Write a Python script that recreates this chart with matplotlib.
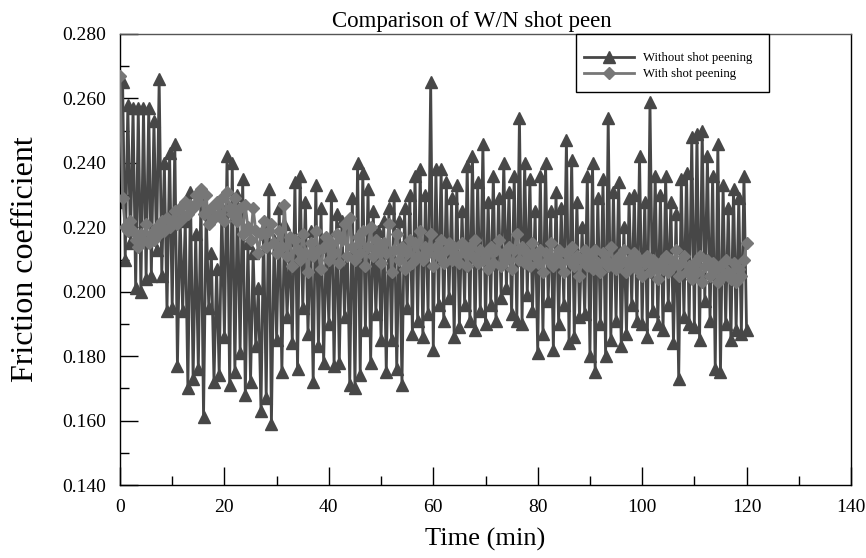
import numpy as np
import matplotlib
matplotlib.use("Agg")
import matplotlib.pyplot as plt
from matplotlib.ticker import MultipleLocator, FormatStrFormatter
from matplotlib.patches import Rectangle

time_min = [i * 0.5 for i in range(241)]

without_peening = [
    0.228, 0.265, 0.210, 0.258, 0.215, 0.257, 0.201, 0.257, 0.200, 0.257,
    0.204, 0.257, 0.205, 0.253, 0.213, 0.266, 0.205, 0.240, 0.194, 0.243,
    0.195, 0.246, 0.177, 0.224, 0.194, 0.222, 0.170, 0.231, 0.173, 0.218,
    0.176, 0.230, 0.161, 0.225, 0.195, 0.212, 0.172, 0.207, 0.174, 0.226,
    0.186, 0.242, 0.171, 0.240, 0.175, 0.230, 0.181, 0.235, 0.168, 0.215,
    0.172, 0.212, 0.183, 0.201, 0.163, 0.220, 0.167, 0.232, 0.159, 0.216,
    0.185, 0.226, 0.175, 0.221, 0.192, 0.216, 0.184, 0.234, 0.176, 0.236,
    0.195, 0.228, 0.187, 0.219, 0.172, 0.233, 0.183, 0.226, 0.178, 0.216,
    0.190, 0.230, 0.177, 0.224, 0.178, 0.222, 0.192, 0.220, 0.171, 0.229,
    0.170, 0.240, 0.174, 0.237, 0.188, 0.232, 0.178, 0.225, 0.193, 0.219,
    0.185, 0.222, 0.175, 0.226, 0.185, 0.230, 0.176, 0.222, 0.171, 0.226,
    0.195, 0.230, 0.187, 0.236, 0.191, 0.238, 0.186, 0.230, 0.193, 0.265,
    0.182, 0.238, 0.196, 0.238, 0.191, 0.234, 0.198, 0.229, 0.186, 0.233,
    0.189, 0.225, 0.196, 0.239, 0.191, 0.242, 0.188, 0.234, 0.194, 0.246,
    0.190, 0.228, 0.196, 0.236, 0.191, 0.229, 0.198, 0.240, 0.201, 0.231,
    0.193, 0.236, 0.191, 0.254, 0.190, 0.240, 0.199, 0.235, 0.194, 0.225,
    0.181, 0.236, 0.187, 0.240, 0.197, 0.225, 0.182, 0.231, 0.190, 0.226,
    0.196, 0.247, 0.184, 0.241, 0.186, 0.228, 0.192, 0.220, 0.193, 0.236,
    0.180, 0.240, 0.175, 0.229, 0.190, 0.235, 0.180, 0.254, 0.185, 0.231,
    0.191, 0.234, 0.183, 0.220, 0.187, 0.229, 0.196, 0.230, 0.191, 0.242,
    0.190, 0.228, 0.186, 0.259, 0.194, 0.236, 0.190, 0.230, 0.188, 0.236,
    0.196, 0.228, 0.184, 0.224, 0.173, 0.235, 0.192, 0.237, 0.190, 0.248,
    0.189, 0.249, 0.185, 0.250, 0.197, 0.242, 0.191, 0.236, 0.176, 0.246,
    0.175, 0.233, 0.190, 0.226, 0.185, 0.232, 0.188, 0.229, 0.187, 0.236,
    0.188,
]

with_peening = [
    0.267, 0.229, 0.220, 0.219, 0.222, 0.219, 0.216, 0.214, 0.218, 0.216,
    0.221, 0.215, 0.218, 0.216, 0.220, 0.218, 0.222, 0.219, 0.223, 0.220,
    0.222, 0.225, 0.221, 0.226, 0.223, 0.228, 0.224, 0.227, 0.226, 0.230,
    0.228, 0.232, 0.224, 0.230, 0.221, 0.226, 0.223, 0.228, 0.224, 0.229,
    0.222, 0.231, 0.226, 0.224, 0.229, 0.222, 0.226, 0.218, 0.227, 0.220,
    0.216, 0.226, 0.219, 0.212, 0.218, 0.222, 0.214, 0.219, 0.221, 0.215,
    0.212, 0.219, 0.214, 0.227, 0.211, 0.217, 0.208, 0.216, 0.213, 0.210,
    0.218, 0.212, 0.206, 0.215, 0.211, 0.219, 0.213, 0.207, 0.214, 0.217,
    0.210, 0.215, 0.212, 0.218, 0.209, 0.216, 0.221, 0.211, 0.223, 0.214,
    0.210, 0.217, 0.212, 0.219, 0.208, 0.214, 0.220, 0.211, 0.216, 0.213,
    0.209, 0.215, 0.212, 0.221, 0.206, 0.213, 0.218, 0.210, 0.214, 0.207,
    0.212, 0.216, 0.209, 0.215, 0.211, 0.219, 0.210, 0.214, 0.212, 0.218,
    0.208, 0.214, 0.211, 0.216, 0.209, 0.213, 0.215, 0.210, 0.214, 0.211,
    0.209, 0.215, 0.212, 0.208, 0.214, 0.211, 0.216, 0.209, 0.213, 0.210,
    0.212, 0.207, 0.214, 0.209, 0.213, 0.216, 0.208, 0.212, 0.210, 0.214,
    0.207, 0.213, 0.218, 0.210, 0.214, 0.209, 0.212, 0.208, 0.215, 0.211,
    0.209, 0.213, 0.206, 0.212, 0.210, 0.215, 0.208, 0.211, 0.213, 0.209,
    0.206, 0.212, 0.210, 0.214, 0.208, 0.211, 0.205, 0.210, 0.213, 0.208,
    0.211, 0.207, 0.213, 0.209, 0.206, 0.212, 0.210, 0.208, 0.214, 0.209,
    0.207, 0.211, 0.209, 0.213, 0.206, 0.210, 0.208, 0.212, 0.207, 0.210,
    0.205, 0.209, 0.211, 0.206, 0.210, 0.208, 0.204, 0.209, 0.207, 0.211,
    0.206, 0.210, 0.208, 0.213, 0.205, 0.209, 0.211, 0.206, 0.208, 0.204,
    0.209, 0.206, 0.211, 0.203, 0.208, 0.210, 0.205, 0.209, 0.207, 0.203,
    0.208, 0.205, 0.210, 0.206, 0.204, 0.209, 0.203, 0.207, 0.205, 0.210,
    0.215,
]

series_labels = ["Without shot peening", "With shot peening"]
title_text = "Comparison of W/N shot peen"
x_label = "Time (min)"
y_label = "Friction coefficient"

plt.rcParams['font.family'] = ['Liberation Serif', 'DejaVu Serif']

W, H = 866, 558
L, R, T, B = 120, 851, 34, 485
fig = plt.figure(figsize=(W / 100, H / 100), dpi=100)
ax = fig.add_axes([L / W, 1 - B / H, (R - L) / W, (B - T) / H])

ax.plot(time_min, without_peening, color='#474747', lw=2.0, marker='^',
        ms=9, mec='#474747', mfc='#474747', label=series_labels[0], zorder=2)
ax.plot(time_min, with_peening, color='#777777', lw=2.0, marker='D',
        ms=6.5, mec='#777777', mfc='#777777', label=series_labels[1], zorder=3)

ax.set_xlim(0, 140)
ax.set_ylim(0.140, 0.280)
ax.xaxis.set_major_locator(MultipleLocator(20))
ax.xaxis.set_minor_locator(MultipleLocator(10))
ax.yaxis.set_major_locator(MultipleLocator(0.02))
ax.yaxis.set_minor_locator(MultipleLocator(0.01))
ax.yaxis.set_major_formatter(FormatStrFormatter('%.3f'))
ax.tick_params(which='both', direction='in', top=False, right=False,
               labelsize=14, width=1, color='black')
ax.tick_params(which='major', length=13, pad=10)
ax.tick_params(which='minor', length=6.5)
for s in ax.spines.values():
    s.set_linewidth(1.0)
    s.set_color('black')
ax.spines['top'].set_color('#555555')

ax.text(0.4815, 1.0 + 7 / (B - T), title_text, transform=ax.transAxes,
        ha='center', va='baseline', fontsize=16.5)
ax.set_xlabel(x_label, fontsize=19, labelpad=9)
ax.set_ylabel(y_label, fontsize=23, labelpad=16)

# legend box
bx0 = (576 - L) / (R - L)
bx1 = (769 - L) / (R - L)
by0 = (B - 92) / (B - T)
ax.add_patch(Rectangle((bx0, by0), bx1 - bx0, 1.0 - by0, transform=ax.transAxes,
                       fill=True, facecolor='white', edgecolor='black', lw=1.0,
                       zorder=5, clip_on=False))
leg = ax.legend(loc='upper left',
                bbox_to_anchor=((584 - L) / (R - L), (B - 52) / (B - T)),
                fontsize=9.2, frameon=False, borderpad=0, borderaxespad=0,
                handlelength=3.9, handletextpad=0.7, labelspacing=0.35)
leg.set_zorder(6)

fig.savefig('out.png', dpi=100)
